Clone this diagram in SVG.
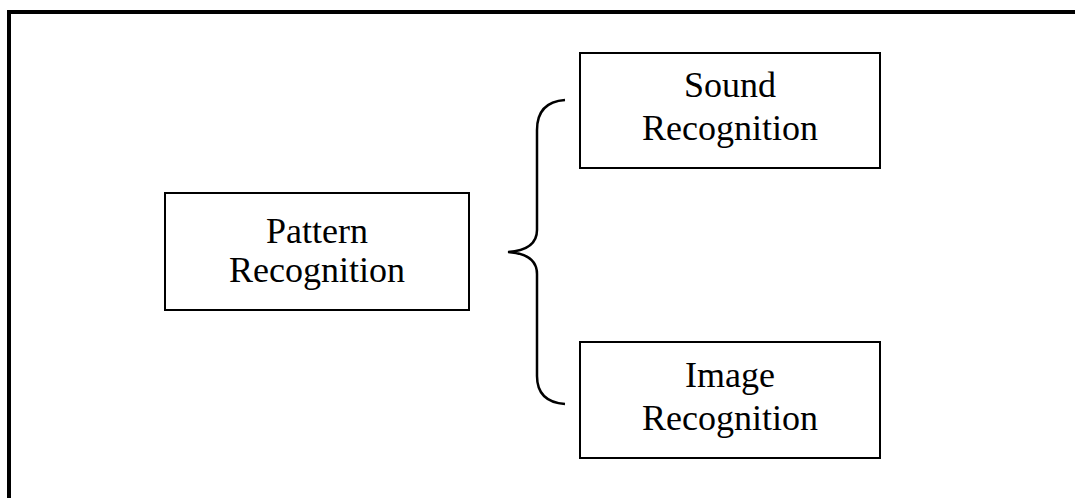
<svg xmlns="http://www.w3.org/2000/svg" width="1075" height="498" viewBox="0 0 1075 498">
<style>
.box{fill:#fff;stroke:#000;stroke-width:2}
.t{font-family:"Liberation Serif","Times New Roman",serif;font-size:36px;fill:#000;text-anchor:middle}
.frame{fill:none;stroke:#000;stroke-width:4}
.br{fill:none;stroke:#000;stroke-width:2.5}
</style>
<rect width="1075" height="498" fill="#fff"/>
<path class="frame" d="M9,500 L9,12 L1080,12"/>
<g id="pattern">
<rect class="box" x="165" y="193" width="304" height="117"/>
<text class="t" x="317" y="243">Pattern</text>
<text class="t" x="317" y="282">Recognition</text>
</g>
<g id="sound">
<rect class="box" x="580" y="53" width="300" height="115"/>
<text class="t" x="730" y="97">Sound</text>
<text class="t" x="730" y="140">Recognition</text>
</g>
<g id="image">
<rect class="box" x="580" y="342" width="300" height="116"/>
<text class="t" x="730" y="387">Image</text>
<text class="t" x="730" y="430">Recognition</text>
</g>
<g id="connectors">
<path class="br" d="M565,100 Q537,102 537,130 L537,230 Q537,250 508,252 Q537,254 537,274 L537,376 Q537,402 565,404"/>
</g>
</svg>
